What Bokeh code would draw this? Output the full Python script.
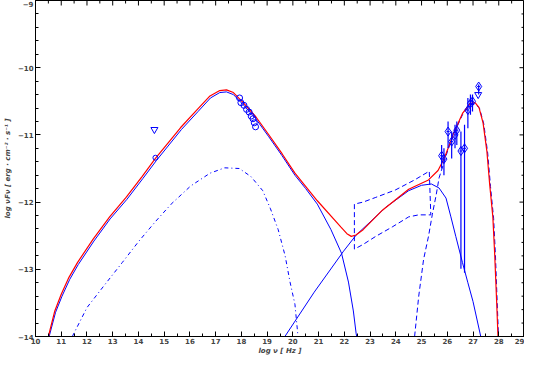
import math
from bokeh.plotting import figure
from bokeh.models import LinearAxis, SingleIntervalTicker, Range1d
from bokeh.embed import file_html
from bokeh.resources import INLINE

# ---- model curves (log nu, log nuFnu) ----
total_x = [10.5, 10.75, 11.0, 11.3, 11.63, 12.24, 12.88, 13.52, 14.14, 14.66, 15.64, 16.29, 16.78, 17.16, 17.42,
           17.69, 18.07, 18.56, 19.05, 19.58, 20.08, 20.95, 21.86, 22.1, 22.27, 22.45, 22.73, 23.48, 24.5, 25.27,
           25.64, 25.87, 26.02, 26.25, 26.59, 26.89, 27.08, 27.23, 27.39, 27.54, 27.65, 27.77, 27.84, 27.92, 27.97]
total_y = [-14.0, -13.62, -13.37, -13.12, -12.9, -12.55, -12.22, -11.93, -11.62, -11.35, -10.89, -10.62, -10.42,
           -10.34, -10.33, -10.37, -10.52, -10.73, -10.99, -11.28, -11.57, -11.98, -12.37, -12.47, -12.51, -12.49,
           -12.41, -12.12, -11.81, -11.67, -11.53, -11.36, -11.21, -10.97, -10.68, -10.53, -10.52, -10.59, -10.82,
           -11.25, -11.75, -12.22, -12.76, -13.5, -14.0]

sync_x = [10.53, 10.78, 11.03, 11.33, 11.66, 12.27, 12.9, 13.55, 14.17, 14.7, 15.67, 16.32, 16.8, 17.16, 17.42,
          17.69, 18.07, 18.56, 19.05, 19.58, 20.08, 20.5, 20.95, 21.48, 21.89, 22.16, 22.35, 22.46, 22.48]
sync_y = [-14.0, -13.64, -13.4, -13.15, -12.93, -12.58, -12.25, -11.96, -11.65, -11.38, -10.92, -10.65, -10.45,
          -10.37, -10.36, -10.4, -10.55, -10.76, -11.02, -11.31, -11.6, -11.8, -12.03, -12.41, -12.76, -13.19,
          -13.62, -13.96, -14.0]

ssc_x = [19.69, 20.83, 21.97, 22.46, 23.6, 24.5, 25.0, 25.38, 25.68, 25.95, 26.14, 26.33, 26.59, 26.8, 27.0, 27.3]
ssc_y = [-14.0, -13.34, -12.73, -12.49, -12.08, -11.83, -11.75, -11.73, -11.79, -11.94, -12.22, -12.51, -12.9,
         -13.2, -13.48, -14.0]

dashdot_x = [11.43, 12.0, 12.69, 13.37, 14.02, 14.66, 15.27, 16.03, 16.78, 17.35, 17.92, 18.37, 18.83, 19.13,
             19.43, 19.7, 19.89, 20.08, 20.2]
dashdot_y = [-14.0, -13.57, -13.23, -12.9, -12.58, -12.29, -12.03, -11.76, -11.57, -11.49, -11.5, -11.62, -11.83,
             -12.1, -12.41, -12.8, -13.19, -13.52, -14.0]

loop_x = [22.39, 22.39, 22.73, 23.22, 23.98, 24.73, 25.3, 25.36, 24.89, 24.5, 23.86, 23.22, 22.73, 22.39]
loop_y = [-12.70, -12.03, -12.0, -11.93, -11.82, -11.67, -11.54, -12.19, -12.19, -12.22, -12.37, -12.51, -12.63,
          -12.70]

ec_x = [24.73, 24.89, 25.08, 25.27, 25.42, 25.57, 25.68, 25.83, 26.02, 26.25, 26.59, 26.89, 27.08, 27.25, 27.42,
        27.57, 27.68, 27.8, 27.87, 27.94, 27.99]
ec_y = [-14.0, -13.4, -12.85, -12.51, -12.18, -11.89, -11.64, -11.46, -11.23, -10.99, -10.7, -10.55, -10.54, -10.6,
        -10.84, -11.27, -11.77, -12.24, -12.78, -13.5, -14.0]

# ---- data points ----
xray_x = [17.93, 17.98, 18.1, 18.2, 18.3, 18.38, 18.45, 18.5, 18.55]
xray_y = [-10.45, -10.52, -10.56, -10.62, -10.66, -10.72, -10.76, -10.82, -10.88]

opt_x = [14.66]
opt_y = [-11.34]
ul_x = [14.62, 27.2]
ul_y = [-10.92, -10.4]

gam_x = [25.78, 25.87, 26.03, 26.17, 26.3, 26.37, 26.53, 26.67, 26.8, 26.9, 26.98, 27.22]
gam_y = [-11.31, -11.36, -10.95, -11.1, -11.0, -10.93, -11.24, -11.2, -10.63, -10.53, -10.5, -10.28]
gam_lo = [-11.5, -11.6, -11.2, -11.35, -11.2, -11.15, -12.99, -13.05, -10.9, -10.7, -10.65, -10.4]
gam_hi = [-11.15, -11.2, -10.8, -10.95, -10.85, -10.8, -10.95, -10.85, -10.45, -10.4, -10.4, -10.25]

# tick positions for the mirrored (top / right) tick marks
x_major = list(range(10, 30))
x_minor = [v + 0.5 for v in range(10, 29)]
y_major = [-14, -13, -12, -11, -10, -9]
y_minor = [v / 10 for v in range(-138, -90, 2) if v % 10 != 0]

BLUE = "#0000ff"
RED = "#ff0000"
FONT = "DejaVu Sans"

p = figure(width=524, height=357, output_backend="svg", toolbar_location=None,
           x_range=Range1d(10, 29), y_range=Range1d(-14, -9),
           x_axis_location=None, y_axis_location=None,
           min_border_left=0, min_border_right=0, min_border_top=0, min_border_bottom=0)
p.grid.visible = False
p.outline_line_color = "black"
p.background_fill_color = "white"
p.border_fill_color = "white"


def style_axis(ax):
    ax.major_tick_in = 5
    ax.major_tick_out = 0
    ax.minor_tick_in = 3
    ax.minor_tick_out = 0
    ax.axis_line_color = "black"
    ax.major_tick_line_color = "black"
    ax.minor_tick_line_color = "black"
    ax.major_label_text_font = FONT
    ax.major_label_text_font_style = "bold"
    ax.major_label_text_font_size = "7px"
    ax.major_label_standoff = 2
    ax.axis_label_text_font = FONT
    ax.axis_label_text_font_style = "bold italic"
    ax.axis_label_text_font_size = "7px"


xb = LinearAxis(ticker=SingleIntervalTicker(interval=1, num_minor_ticks=2), axis_label="log ν [ Hz ]")
style_axis(xb)
xb.major_label_standoff = 1
xb.axis_label_standoff = 0
yl = LinearAxis(ticker=SingleIntervalTicker(interval=1, num_minor_ticks=5),
                axis_label="log νFν [ erg · cm⁻² · s⁻¹ ]")
style_axis(yl)
yl.axis_label_standoff = 3
p.add_layout(xb, "below")
p.add_layout(yl, "left")

# mirrored ticks on top and right edges (screen-length rays)
p.ray(x=x_major, y=-9, length=5, length_units="screen", angle=-math.pi / 2, line_color="black", line_width=1)
p.ray(x=x_minor, y=-9, length=3, length_units="screen", angle=-math.pi / 2, line_color="black", line_width=1)
p.ray(x=29, y=y_major, length=5, length_units="screen", angle=math.pi, line_color="black", line_width=1)
p.ray(x=29, y=y_minor, length=3, length_units="screen", angle=math.pi, line_color="black", line_width=1)

# curves
p.line(dashdot_x, dashdot_y, line_color=BLUE, line_width=1, line_dash="4 3 1 3")
p.line(loop_x, loop_y, line_color=BLUE, line_width=1, line_dash="5 3")
p.line(ec_x, ec_y, line_color=BLUE, line_width=1, line_dash="5 3")
p.line(ssc_x, ssc_y, line_color=BLUE, line_width=1)
p.line(sync_x, sync_y, line_color=BLUE, line_width=1)
p.line(total_x, total_y, line_color=RED, line_width=1.2)

# data
p.segment(gam_x, gam_lo, gam_x, gam_hi, line_color=BLUE, line_width=1.2)
p.segment([x - 0.06 for x in gam_x], gam_y, [x + 0.06 for x in gam_x], gam_y, line_color=BLUE, line_width=1)
p.scatter(gam_x, gam_y, marker="diamond", size=9, fill_color=None, line_color=BLUE, line_width=1)
p.scatter(xray_x, xray_y, marker="circle", size=6, fill_color=None, line_color=BLUE, line_width=1)
p.scatter(opt_x, opt_y, marker="circle", size=5, fill_color=None, line_color=BLUE, line_width=1)
p.scatter(ul_x, ul_y, marker="inverted_triangle", size=7, fill_color=None, line_color=BLUE, line_width=1)

open("out.html", "w").write(file_html(p, INLINE))
